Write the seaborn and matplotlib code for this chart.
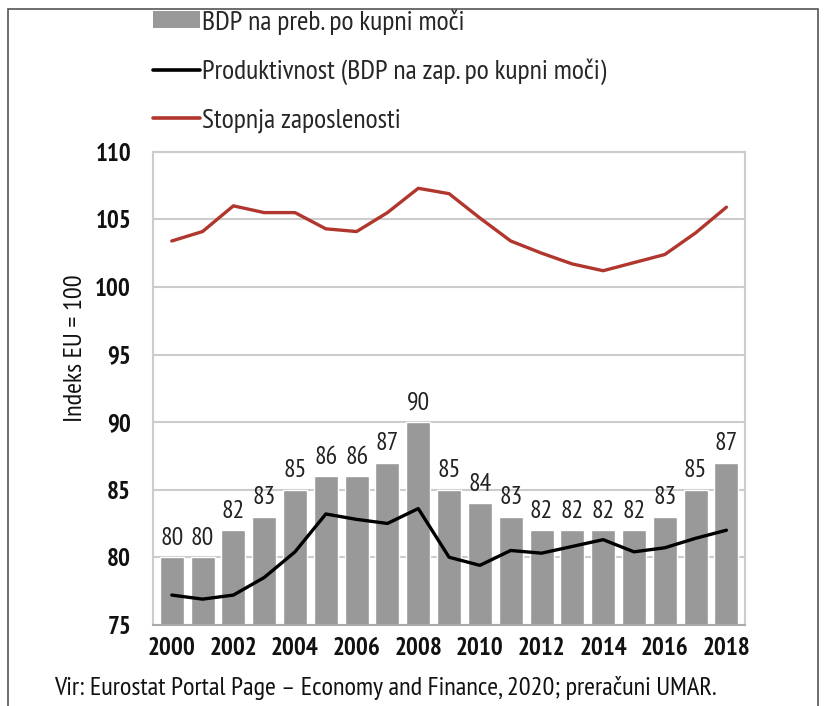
import numpy as np
import pandas as pd
import matplotlib
matplotlib.use('Agg')
import matplotlib.pyplot as plt
import seaborn as sns
from matplotlib.patches import Rectangle, Patch
from matplotlib.lines import Line2D

# podatki (odčitano s slike)
years = list(range(2000, 2019))
bdp_preb = [80, 80, 82, 83, 85, 86, 86, 87, 90, 85, 84, 83, 82, 82, 82, 82, 83, 85, 87]
produktivnost = [77.2, 76.9, 77.2, 78.5, 80.4, 83.2, 82.8, 82.5, 83.6, 80.0, 79.4, 80.5, 80.3,
                 80.8, 81.3, 80.4, 80.7, 81.4, 82.0]
zaposlenost = [103.4, 104.1, 106.0, 105.5, 105.5, 104.3, 104.1, 105.5, 107.3, 106.9, 105.1,
               103.4, 102.5, 101.7, 101.2, 101.8, 102.4, 104.0, 105.9]
tick_labels = [str(y) if y % 2 == 0 else '' for y in years]

df = pd.DataFrame({'leto': years, 'bdp': bdp_preb, 'prod': produktivnost, 'zap': zaposlenost})
df['pos'] = np.arange(len(df))

sns.set_style('white')
plt.rcParams['font.family'] = ['PT Sans Narrow', 'DejaVu Sans']

bar_col = '#999999'
red = '#b0362e'

fig = plt.figure(figsize=(8.24, 7.06), dpi=100)
ax = fig.add_axes([0.186, 0.115, 0.718, 0.670])

# okvir okrog slike
fig.patches.append(Rectangle((0.010, -0.01), 0.983, 0.997, transform=fig.transFigure,
                             fill=False, edgecolor='#555555', lw=1.2))

sns.barplot(data=df, x='pos', y='bdp', color=bar_col, width=0.78, saturation=1,
            native_scale=True, ax=ax, zorder=2)
sns.lineplot(data=df, x='pos', y='prod', color='black', lw=2.4, ax=ax, zorder=3)
sns.lineplot(data=df, x='pos', y='zap', color=red, lw=2.4, ax=ax, zorder=3)

for p, v in zip(df['pos'], df['bdp']):
    ax.text(p, v + 0.55, str(v), ha='center', va='bottom', fontsize=18.5, color='#222222')

ax.set_ylim(75, 110)
ax.set_xlim(-0.6, len(years) - 0.4)
ax.set_yticks(range(75, 111, 5))
ax.set_xticks(df['pos'])
ax.set_xticklabels(tick_labels)
ax.tick_params(axis='both', labelsize=18, length=0, colors='#111111')
ax.tick_params(axis='x', pad=9)
ax.tick_params(axis='y', pad=16)
for lbl in ax.get_xticklabels() + ax.get_yticklabels():
    lbl.set_fontweight('bold')
ax.set_xlabel('')
ax.set_ylabel('Indeks EU = 100', fontsize=19, color='#111111')
ax.yaxis.set_label_coords(-0.112, 0.585)
ax.yaxis.grid(True, color='#cccccc', lw=1.5, zorder=0)
ax.set_axisbelow(True)
for s in ['left', 'right', 'top']:
    ax.spines[s].set_color('#cccccc')
    ax.spines[s].set_linewidth(1.5)
ax.spines['bottom'].set_color('#aaaaaa')
ax.spines['bottom'].set_linewidth(1.5)

handles = [Patch(facecolor=bar_col, edgecolor='none'),
           Line2D([], [], color='black', lw=2.6),
           Line2D([], [], color=red, lw=2.6)]
labels = ['BDP na preb. po kupni moči',
          'Produktivnost (BDP na zap. po kupni moči)',
          'Stopnja zaposlenosti']
fig.legend(handles, labels, loc='upper left', bbox_to_anchor=(0.186, 0.987), frameon=False,
           fontsize=20, labelspacing=0.85, handlelength=1.7, handletextpad=0.05,
           handleheight=0.55, borderpad=0, borderaxespad=0)

fig.text(0.066, 0.016, 'Vir: Eurostat Portal Page – Economy and Finance, 2020; preračuni UMAR.',
         fontsize=19, color='#111111')

fig.savefig('out.png', dpi=100)
